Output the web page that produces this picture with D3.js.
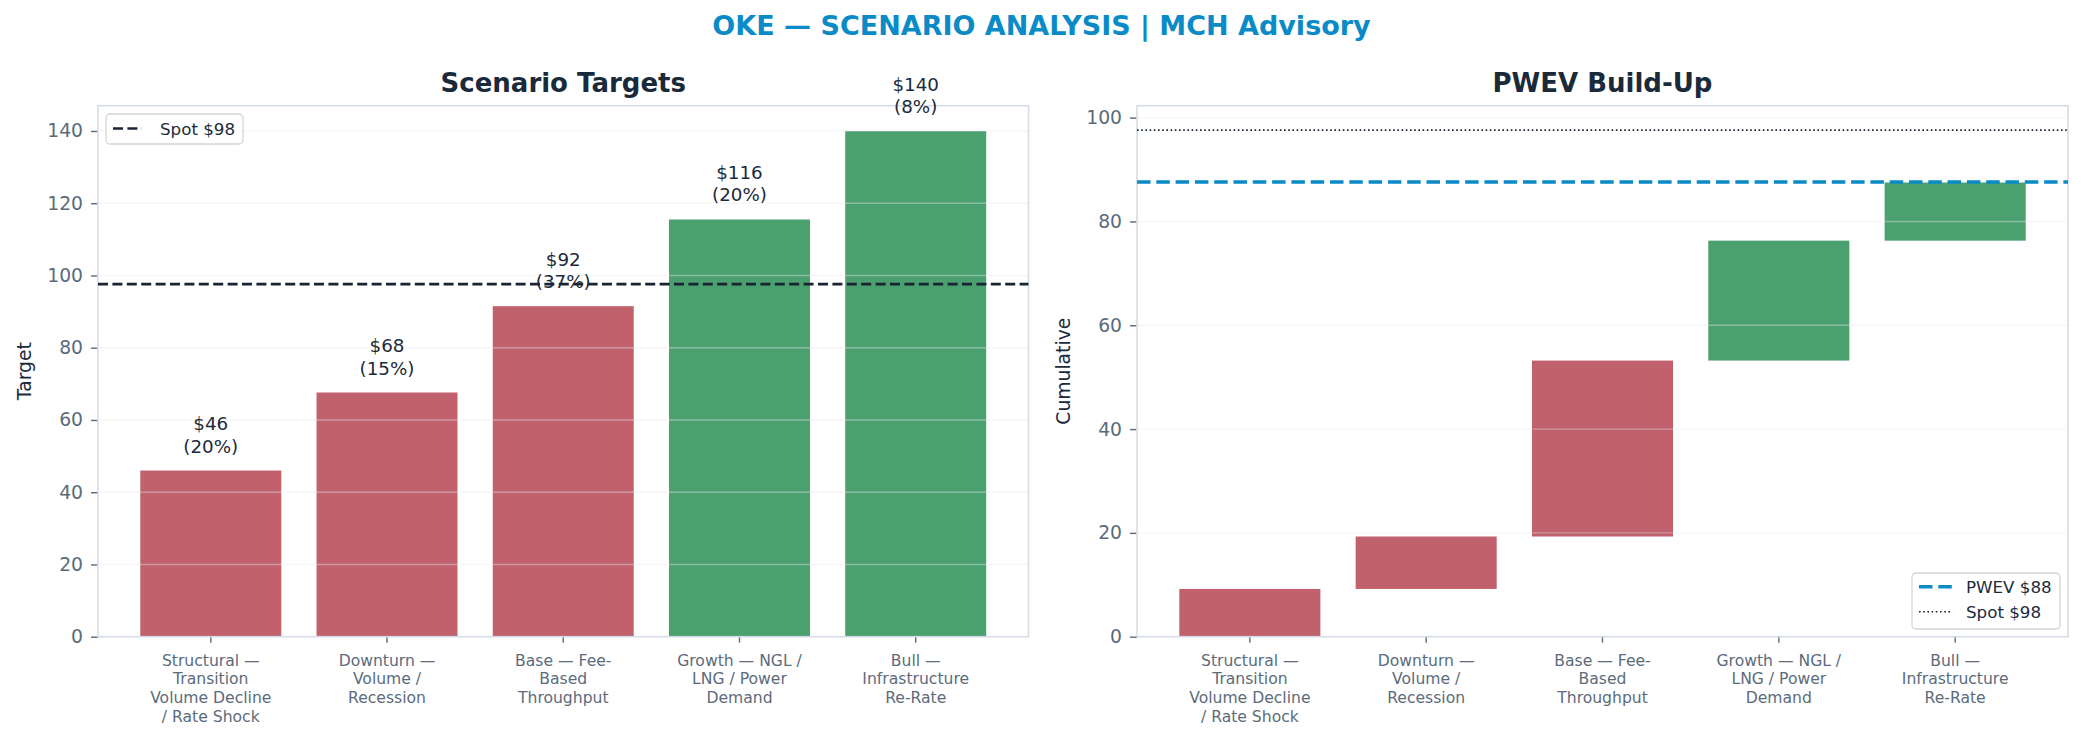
<!DOCTYPE html>
<html>
<head>
<meta charset="utf-8">
<script src="https://cdn.jsdelivr.net/npm/d3@7"></script>
<style>
  body { margin: 0; background: #fff; }
  svg { display: block; font-family: "DejaVu Sans", sans-serif; }
</style>
</head>
<body>
<div id="chart"></div>
<script>
// scenario data
const categories = [
  "Structural —\nTransition\nVolume Decline\n/ Rate Shock",
  "Downturn —\nVolume /\nRecession",
  "Base — Fee-\nBased\nThroughput",
  "Growth — NGL /\nLNG / Power\nDemand",
  "Bull —\nInfrastructure\nRe-Rate"
];
const targets = [46.0, 67.6, 91.5, 115.5, 140.0];
const probs = [20, 15, 37, 20, 8];
const contributions = [9.2, 10.1, 33.9, 23.1, 11.2];
const upside = [false, false, false, true, true];
const spot = 97.6;
const pwev = 87.6;
const leftTicks = [0, 20, 40, 60, 80, 100, 120, 140];
const rightTicks = [0, 20, 40, 60, 80, 100];

const W = 2083, H = 742;
const RED = "#c0616b", GREEN = "#4aa16e", BLUE = "#0a8bc8";
const DARK = "#1b2a3b", GREY = "#5b6b7c", SPINE = "#d5dce5";

const svg = d3.select("#chart").append("svg")
  .attr("width", W).attr("height", H);
svg.append("rect").attr("width", W).attr("height", H).attr("fill", "#fff");

svg.append("text")
  .attr("x", W / 2).attr("y", 35)
  .attr("text-anchor", "middle")
  .attr("font-size", 27).attr("font-weight", "bold")
  .attr("fill", BLUE)
  .text("OKE — SCENARIO ANALYSIS | MCH Advisory");

const plotTop = 105.7, plotBottom = 636.7;

function panel(left, right, ymax, ticks, title, ylabel) {
  const g = svg.append("g");
  const x = d3.scaleBand()
    .domain(d3.range(categories.length))
    .range([left, right])
    .paddingInner(0.2)
    .paddingOuter(0.24);
  const y = d3.scaleLinear().domain([0, ymax]).range([plotBottom, plotTop]);

  // y axis
  const ya = g.append("g")
    .attr("transform", `translate(${left},0)`)
    .call(d3.axisLeft(y).tickValues(ticks).tickSize(7).tickPadding(8));
  ya.select(".domain").remove();
  ya.selectAll("line").attr("stroke", GREY).attr("stroke-width", 1.4);
  ya.selectAll("text").attr("font-size", 18.75).attr("fill", GREY)
    .attr("font-family", "DejaVu Sans");

  // x axis
  const xa = g.append("g")
    .attr("transform", `translate(0,${plotBottom})`)
    .call(d3.axisBottom(x).tickSize(6).tickFormat(""));
  xa.select(".domain").remove();
  xa.selectAll("line").attr("stroke", GREY).attr("stroke-width", 1.4);
  xa.selectAll(".tick").each(function (d) {
    const t = d3.select(this).append("text")
      .attr("text-anchor", "middle")
      .attr("font-size", 15.6).attr("fill", GREY)
      .attr("font-family", "DejaVu Sans");
    categories[d].split("\n").forEach((line, i) => {
      t.append("tspan").attr("x", 0).attr("y", 29 + i * 18.7).text(line);
    });
  });

  g.append("text")
    .attr("transform", `translate(${left - 74 + 6.5},${(plotTop + plotBottom) / 2}) rotate(-90)`)
    .attr("text-anchor", "middle")
    .attr("font-size", 18.75).attr("fill", DARK)
    .text(ylabel);

  g.append("text")
    .attr("x", (left + right) / 2).attr("y", 91.7)
    .attr("text-anchor", "middle")
    .attr("font-size", 26).attr("font-weight", "bold").attr("fill", DARK)
    .text(title);

  return { g, x, y, left, right };
}

function finish(p, ticks) {
  // grid drawn over bars, like the reference
  p.g.append("g").selectAll("line")
    .data(ticks.filter(t => t > 0))
    .join("line")
    .attr("x1", p.left).attr("x2", p.right)
    .attr("y1", d => p.y(d)).attr("y2", d => p.y(d))
    .attr("stroke", "#e6e9ec").attr("stroke-opacity", 0.4)
    .attr("stroke-width", 1.4);
  p.g.append("rect")
    .attr("x", p.left).attr("y", plotTop)
    .attr("width", p.right - p.left).attr("height", plotBottom - plotTop)
    .attr("fill", "none").attr("stroke", SPINE).attr("stroke-width", 1.6);
}

// ---- left: scenario targets
const L = panel(98, 1028.5, 147, leftTicks, "Scenario Targets", "Target");

L.g.append("g").selectAll("rect")
  .data(targets)
  .join("rect")
  .attr("x", (d, i) => L.x(i))
  .attr("width", L.x.bandwidth())
  .attr("y", d => L.y(d))
  .attr("height", d => L.y(0) - L.y(d))
  .attr("fill", (d, i) => upside[i] ? GREEN : RED);

finish(L, leftTicks);

L.g.append("line")
  .attr("x1", L.left).attr("x2", L.right)
  .attr("y1", L.y(spot)).attr("y2", L.y(spot))
  .attr("stroke", "#1a2333").attr("stroke-width", 2.7)
  .attr("stroke-dasharray", "10,4.4");

const lbl = L.g.append("g").selectAll("text")
  .data(targets)
  .join("text")
  .attr("text-anchor", "middle")
  .attr("font-size", 18.3).attr("fill", DARK);
lbl.append("tspan")
  .attr("x", (d, i) => L.x(i) + L.x.bandwidth() / 2)
  .attr("y", d => L.y(d) - 40.4)
  .text(d => "$" + d3.format(".0f")(d));
lbl.append("tspan")
  .attr("x", (d, i) => L.x(i) + L.x.bandwidth() / 2)
  .attr("y", d => L.y(d) - 18)
  .text((d, i) => `(${probs[i]}%)`);

// left legend
const lg = L.g.append("g");
lg.append("rect").attr("x", 106).attr("y", 114).attr("width", 137).attr("height", 30)
  .attr("rx", 4).attr("fill", "#fff").attr("fill-opacity", 0.85)
  .attr("stroke", "#d4d4d4").attr("stroke-width", 1.3);
lg.append("line").attr("x1", 113).attr("x2", 142).attr("y1", 128.5).attr("y2", 128.5)
  .attr("stroke", "#1a2333").attr("stroke-width", 2.7).attr("stroke-dasharray", "10,4.4");
lg.append("text").attr("x", 160).attr("y", 134.5)
  .attr("font-size", 16.7).attr("fill", DARK).text("Spot $" + d3.format(".0f")(spot));

// ---- right: PWEV waterfall
const R = panel(1137, 2068, 102.3, rightTicks, "PWEV Build-Up", "Cumulative");
const ends = d3.cumsum(contributions);

R.g.append("g").selectAll("rect")
  .data(contributions)
  .join("rect")
  .attr("x", (d, i) => R.x(i))
  .attr("width", R.x.bandwidth())
  .attr("y", (d, i) => R.y(ends[i]))
  .attr("height", (d, i) => R.y(ends[i] - d) - R.y(ends[i]))
  .attr("fill", (d, i) => upside[i] ? GREEN : RED);

finish(R, rightTicks);

R.g.append("line")
  .attr("x1", R.left).attr("x2", R.right)
  .attr("y1", R.y(pwev)).attr("y2", R.y(pwev))
  .attr("stroke", BLUE).attr("stroke-width", 3.6)
  .attr("stroke-dasharray", "13.5,5.8");
R.g.append("line")
  .attr("x1", R.left).attr("x2", R.right)
  .attr("y1", R.y(spot)).attr("y2", R.y(spot))
  .attr("stroke", "#1a2333").attr("stroke-width", 1.6)
  .attr("stroke-dasharray", "1.6,2.6");

const rg = R.g.append("g");
rg.append("rect").attr("x", 1912).attr("y", 573).attr("width", 148).attr("height", 56)
  .attr("rx", 4).attr("fill", "#fff").attr("fill-opacity", 0.85)
  .attr("stroke", "#d4d4d4").attr("stroke-width", 1.3);
rg.append("line").attr("x1", 1919).attr("x2", 1952).attr("y1", 586.7).attr("y2", 586.7)
  .attr("stroke", BLUE).attr("stroke-width", 3.6).attr("stroke-dasharray", "13.5,5.8");
rg.append("text").attr("x", 1966).attr("y", 592.7)
  .attr("font-size", 16.7).attr("fill", DARK).text("PWEV $" + d3.format(".0f")(pwev));
rg.append("line").attr("x1", 1919).attr("x2", 1952).attr("y1", 611.7).attr("y2", 611.7)
  .attr("stroke", "#1a2333").attr("stroke-width", 1.6).attr("stroke-dasharray", "1.6,2.6");
rg.append("text").attr("x", 1966).attr("y", 617.7)
  .attr("font-size", 16.7).attr("fill", DARK).text("Spot $" + d3.format(".0f")(spot));
</script>
</body>
</html>
